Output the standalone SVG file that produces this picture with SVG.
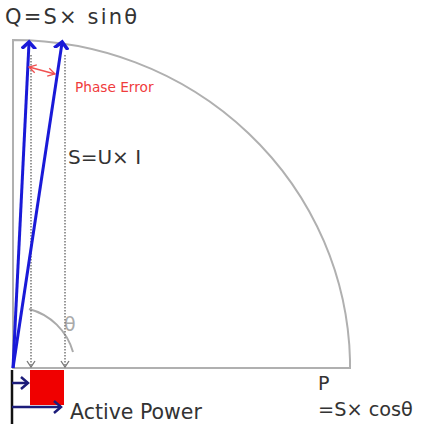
<svg xmlns="http://www.w3.org/2000/svg" width="425" height="429" viewBox="0 0 425 429">
<defs>
<style>
.txt{font-family:"DejaVu Sans","Liberation Sans",Arial,sans-serif;fill:#333}
.gray{fill:none;stroke:#b0b0b0;stroke-width:2}
.blue{stroke:#1a1ad8;stroke-width:3;fill:none}
.dot{stroke:#777;stroke-width:1.5;stroke-dasharray:1.5 1.5;fill:none}
.navy{stroke:#1c1c7a;stroke-width:2.5;fill:none}
</style>
<marker id="bh" markerWidth="14" markerHeight="16" refX="6" refY="8" orient="auto" markerUnits="userSpaceOnUse" viewBox="0 0 14 16"><path d="M0,1 L7,8 L0,15" fill="none" stroke="#1a1ad8" stroke-width="3.5"/></marker>
<marker id="gh" markerWidth="10" markerHeight="10" refX="8" refY="5" orient="auto" markerUnits="userSpaceOnUse" viewBox="0 0 10 10"><path d="M2,1 L8,5 L2,9" fill="none" stroke="#777" stroke-width="1.3"/></marker>
<marker id="nh" markerWidth="12" markerHeight="14" refX="9" refY="7" orient="auto" markerUnits="userSpaceOnUse" viewBox="0 0 12 14"><path d="M2,1 L9,7 L2,13" fill="none" stroke="#1c1c7a" stroke-width="2.5"/></marker>
<marker id="rh" markerWidth="10" markerHeight="10" refX="8" refY="5" orient="auto-start-reverse" markerUnits="userSpaceOnUse" viewBox="0 0 10 10"><path d="M1,1 L8,5 L1,9" fill="none" stroke="#f05050" stroke-width="1.3"/></marker>
</defs>
<g id="quadrant">
<path class="gray" d="M13,368 L13,40 A337,328 0 0 1 350,360 L350,368 Z"/>
</g>
<g id="theta">
<path d="M29,309 A62,62 0 0 1 73,352" fill="none" stroke="#aaa" stroke-width="2"/>
<text x="64" y="331" font-family="DejaVu Sans,sans-serif" font-size="19" fill="#aaa">θ</text>
</g>
<g id="active-power-box">
<rect x="30" y="370" width="34" height="35" fill="#f00000"/>
</g>
<g id="connectors">
<line class="dot" x1="31" y1="55" x2="31" y2="367" marker-end="url(#gh)"/>
<line class="dot" x1="65" y1="55" x2="65" y2="367" marker-end="url(#gh)"/>
<line class="blue" x1="13" y1="368" x2="29" y2="43" marker-end="url(#bh)"/>
<line class="blue" x1="13" y1="368" x2="62" y2="43" marker-end="url(#bh)"/>
<line x1="29" y1="67" x2="55" y2="74" stroke="#f05050" stroke-width="1.3" marker-start="url(#rh)" marker-end="url(#rh)"/>
<line x1="12" y1="370" x2="12" y2="424" stroke="#111" stroke-width="2.5"/>
<line class="navy" x1="12" y1="383" x2="28" y2="383" marker-end="url(#nh)"/>
<line class="navy" x1="12" y1="407" x2="61" y2="407" marker-end="url(#nh)"/>
</g>
<g id="labels">
<text class="txt" x="5" y="24" font-size="21" textLength="132" lengthAdjust="spacing">Q=S× sinθ</text>
<text x="75" y="92" font-family="DejaVu Sans,Liberation Sans,Arial,sans-serif" font-size="13.7" fill="#f03c3c">Phase Error</text>
<text class="txt" x="68" y="164" font-size="20">S=U× I</text>
<text class="txt" x="318" y="390" font-size="19">P</text>
<text class="txt" x="318" y="416" font-size="19.3">=S× cosθ</text>
<text class="txt" x="70" y="419" font-size="20.5">Active Power</text>
</g>
</svg>
